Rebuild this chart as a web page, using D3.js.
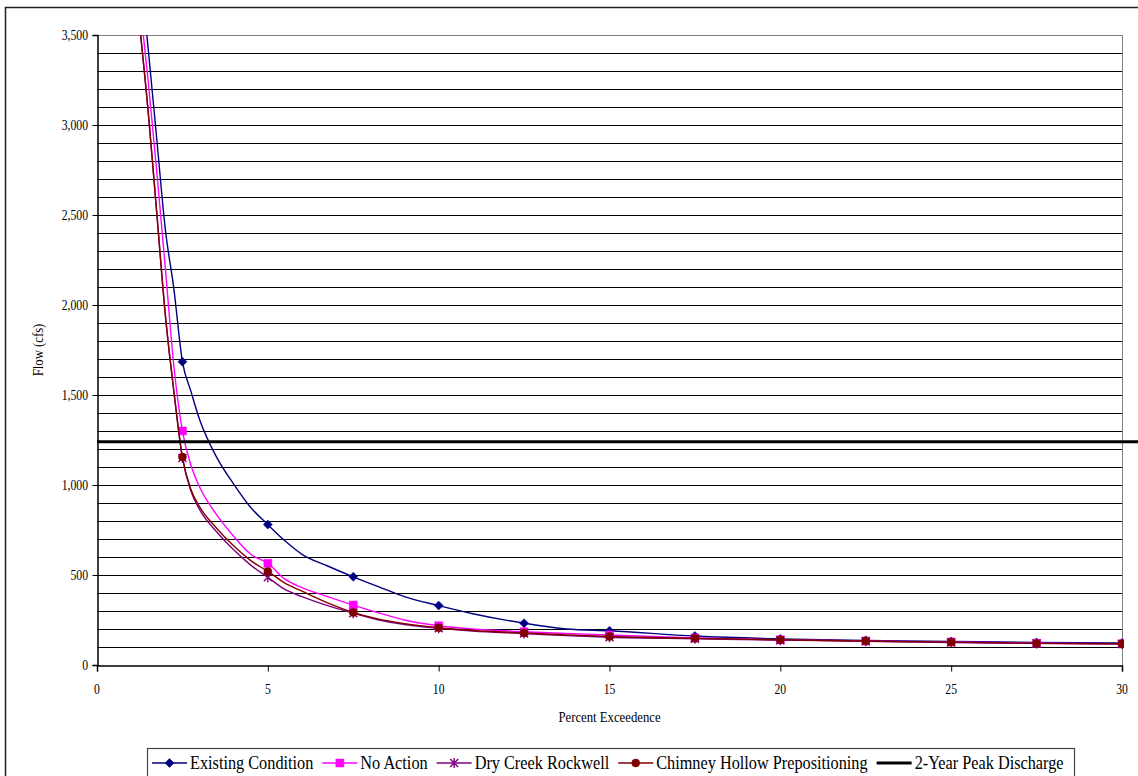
<!DOCTYPE html>
<html><head><meta charset="utf-8">
<script src="https://cdn.jsdelivr.net/npm/d3@7"></script>
<style>
body{margin:0;background:#fff;}
svg{display:block;}
text{font-family:"Liberation Serif","Times New Roman",serif;fill:#000;}
</style>
</head><body>
<svg id="chart" width="1138" height="776"></svg>
<script>
// ---- data ----
const percent = [1.2, 1.5, 1.75, 2.0, 2.25, 2.5, 2.75, 3, 3.5, 4, 4.5, 5, 5.5, 6, 6.75, 7.5, 8.25, 9, 10, 11, 12.5, 13.75, 15, 17.5, 20, 22.5, 25, 27.5, 30];
const existingCondition = [3990, 3420, 2920, 2420, 2090, 1685, 1520, 1365, 1155, 1005, 875, 780, 690, 615, 550, 490, 434, 380, 330, 285, 232, 200, 190, 161, 145, 137, 131, 125, 122];
const noAction = [3780, 3240, 2740, 2205, 1660, 1300, 1110, 990, 835, 715, 615, 565, 477, 430, 380, 333, 290, 250, 218, 200, 185, 175, 167, 150, 140, 133, 128, 121, 118];
const dryCreekRockwell = [3640, 3070, 2510, 1945, 1520, 1150, 965, 865, 740, 640, 555, 487, 420, 380, 330, 288, 250, 225, 204, 188, 175, 163, 154, 146, 138, 132, 125, 120, 117];
const chimneyHollow = [3640, 3070, 2510, 1945, 1520, 1155, 975, 880, 760, 662, 580, 520, 455, 410, 345, 292, 255, 230, 207, 192, 178, 167, 158, 148, 140, 133, 127, 120, 118];
const peakDischarge2Year = 1240;
const markerStep = 2.5;
const xTicks = [0, 5, 10, 15, 20, 25, 30];
const yTicks = [0, 500, 1000, 1500, 2000, 2500, 3000, 3500];
const gridStep = 100;
const seriesNames = ["Existing Condition", "No Action", "Dry Creek Rockwell", "Chimney Hollow Prepositioning", "2-Year Peak Discharge"];
const xTitle = "Percent Exceedence";
const yTitle = "Flow (cfs)";

// ---- layout / style ----
const W = 1138, H = 776;
const plot = {left: 97, right: 1122, top: 35, bottom: 665};
const colors = ["#000080", "#FF00FF", "#800080", "#800000", "#000000"];
const markerTypes = ["diamond", "square", "star", "circle", "none"];

const svg = d3.select("#chart");
const x = d3.scaleLinear().domain([0, 30]).range([plot.left, plot.right]);
const y = d3.scaleLinear().domain([0, 3500]).range([plot.bottom, plot.top]);

function stext(g, px, py, str, size, sx, anchor) {
  return g.append("text")
    .attr("transform", `translate(${px},${py}) scale(${sx},1)`)
    .attr("text-anchor", anchor || "start")
    .style("font-size", size + "px")
    .text(str);
}

// outer chart border
svg.append("rect").attr("x", 5.5).attr("y", 7.5).attr("width", W).attr("height", H)
  .attr("fill", "none").attr("stroke", "#222").attr("stroke-width", 1.5);

// gridlines
const gridVals = d3.range(gridStep, 3500, gridStep);
svg.append("g").selectAll("line").data(gridVals).join("line")
  .attr("x1", plot.left).attr("x2", plot.right)
  .attr("y1", d => Math.round(y(d)) + 0.5).attr("y2", d => Math.round(y(d)) + 0.5)
  .attr("stroke", "#000").attr("stroke-width", 1).attr("shape-rendering", "crispEdges");

// plot area border (top/right grey)
svg.append("path")
  .attr("d", `M${plot.left},${plot.top + 0.5}H${plot.right + 0.5}V${plot.bottom}`)
  .attr("fill", "none").attr("stroke", "#808080").attr("stroke-width", 1.5).attr("shape-rendering", "crispEdges");

// axes
const yAxis = d3.axisLeft(y).tickValues(yTicks).tickSize(5).tickPadding(4).tickFormat(d3.format(","));
const gy = svg.append("g").attr("transform", `translate(${plot.left + 0.5},0)`).call(yAxis);
gy.select(".domain").attr("stroke", "#000").attr("stroke-width", 1.5);
gy.selectAll(".tick line").attr("stroke", "#000");
gy.selectAll(".tick text").remove();
yTicks.forEach(v => stext(svg, plot.left - 9, y(v) + 5, d3.format(",")(v), 15, 0.78, "end"));

const xAxis = d3.axisBottom(x).tickValues(xTicks).tickSize(6).tickFormat(d3.format("d"));
const gx = svg.append("g").attr("transform", `translate(0,${plot.bottom + 0.5})`).call(xAxis);
gx.select(".domain").attr("stroke", "#000").attr("stroke-width", 1.5);
gx.selectAll(".tick line").attr("stroke", "#000");
gx.selectAll(".tick text").remove();
xTicks.forEach(v => stext(svg, x(v), plot.bottom + 29, String(v), 15, 0.78, "middle"));

// axis titles
stext(svg, (plot.left + plot.right) / 2, plot.bottom + 57, xTitle, 15, 0.85, "middle");
svg.append("text")
  .attr("transform", `translate(43,${(plot.top + plot.bottom) / 2}) rotate(-90) scale(0.85,1)`)
  .attr("text-anchor", "middle").style("font-size", "15px").text(yTitle);

// clip
svg.append("clipPath").attr("id", "clip").append("rect")
  .attr("x", plot.left).attr("y", plot.top).attr("width", plot.right - plot.left + 2).attr("height", plot.bottom - plot.top);

function markerPath(type, s) {
  if (type === "diamond") return `M0,${-s}L${s},0L0,${s}L${-s},0Z`;
  if (type === "square") return `M${-s},${-s}H${s}V${s}H${-s}Z`;
  if (type === "star") return `M${-s},${-s}L${s},${s}M${-s},${s}L${s},${-s}M0,${-s - 1}L0,${s + 1}`;
  if (type === "circle") return d3.symbol(d3.symbolCircle, Math.PI * s * s)();
  return "";
}
function drawMarker(g, type, color, cx, cy) {
  const sizes = {diamond: 4.5, square: 4, star: 4, circle: 4};
  const p = g.append("path").attr("d", markerPath(type, sizes[type]))
    .attr("transform", `translate(${cx},${cy})`);
  if (type === "star") p.attr("fill", "none").attr("stroke", color).attr("stroke-width", 1.4);
  else p.attr("fill", color).attr("stroke", color).attr("stroke-width", 0.5);
}

const allSeries = [existingCondition, noAction, dryCreekRockwell, chimneyHollow];
const line = d3.line().x(d => x(d[0])).y(d => y(d[1])).curve(d3.curveMonotoneX);
const gSeries = svg.append("g").attr("clip-path", "url(#clip)");
allSeries.forEach((vals, i) => {
  const pts = percent.map((p, k) => [p, vals[k]]);
  const g = gSeries.append("g");
  g.append("path").datum(pts).attr("d", line)
    .attr("fill", "none").attr("stroke", colors[i]).attr("stroke-width", 1.4);
  pts.filter(d => d[0] > 0 && Math.abs(d[0] / markerStep - Math.round(d[0] / markerStep)) < 1e-9)
    .forEach(d => drawMarker(g, markerTypes[i], colors[i], x(d[0]), y(d[1])));
});

// 2-year peak discharge line
svg.append("line").attr("x1", plot.left).attr("x2", W)
  .attr("y1", y(peakDischarge2Year)).attr("y2", y(peakDischarge2Year))
  .attr("stroke", "#000").attr("stroke-width", 3);

// legend
const legY = 763;
const leg = svg.append("g");
const legBox = leg.append("rect").attr("x", 147.5).attr("y", 748.5).attr("height", 40)
  .attr("fill", "#fff").attr("stroke", "#444").attr("stroke-width", 1.2);
let cx = 152;
const legSx = 0.88, legSize = 18.5;
seriesNames.forEach((name, i) => {
  const lw = i === 4 ? 2.8 : 1.4;
  leg.append("line").attr("x1", cx).attr("x2", cx + 35).attr("y1", legY).attr("y2", legY)
    .attr("stroke", colors[i]).attr("stroke-width", lw);
  if (markerTypes[i] !== "none") drawMarker(leg, markerTypes[i], colors[i], cx + 17.5, legY);
  const t = stext(leg, cx + 38, legY + 6, name, legSize, legSx, "start");
  const w = t.node().getComputedTextLength() * legSx;
  cx = cx + 38 + w + 9;
});
legBox.attr("width", cx - 147.5 + 2);
</script>
</body></html>
